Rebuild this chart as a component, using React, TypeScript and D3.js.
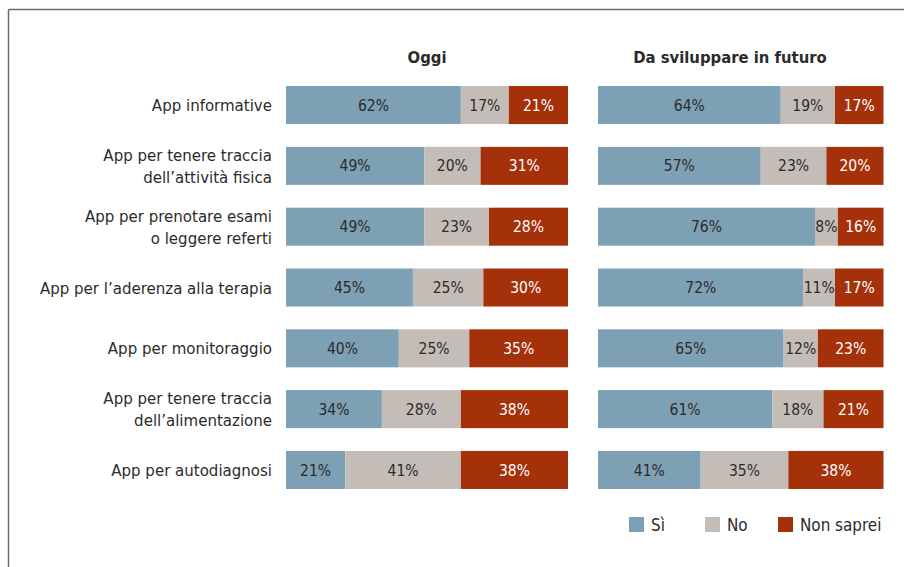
import React from "react";
import * as d3 from "d3";

const categories: string[][] = [
  ["App informative"],
  ["App per tenere traccia", "dell’attività fisica"],
  ["App per prenotare esami", "o leggere referti"],
  ["App per l’aderenza alla terapia"],
  ["App per monitoraggio"],
  ["App per tenere traccia", "dell’alimentazione"],
  ["App per autodiagnosi"],
];
const seriesNames = ["Sì", "No", "Non saprei"];
const oggiSi = [62, 49, 49, 45, 40, 34, 21];
const oggiNo = [17, 20, 23, 25, 25, 28, 41];
const oggiNS = [21, 31, 28, 30, 35, 38, 38];
const futSi = [64, 57, 76, 72, 65, 61, 41];
const futNo = [19, 23, 8, 11, 12, 18, 35];
const futNS = [17, 20, 16, 17, 23, 21, 38];
const panelTitles = ["Oggi", "Da sviluppare in futuro"];

const colors = ["#7da0b5", "#c4bdb7", "#a5310b"];
const textColors = ["#2b2b2b", "#2b2b2b", "#ffffff"];
const FONT = "'DejaVu Sans Condensed', sans-serif";

type Row = { key: number; Si: number; No: number; NS: number };

function buildRows(a: number[], b: number[], c: number[]): Row[] {
  return a.map((v, i) => ({ key: i, Si: v, No: b[i], NS: c[i] }));
}

const keys = ["Si", "No", "NS"];

function Panel({ rows, x0, x1, title, titleX, y }: { rows: Row[]; x0: number; x1: number; title: string; titleX: number; y: d3.ScaleBand<number> }) {
  const stack = d3.stack<Row>().keys(keys).offset(d3.stackOffsetExpand);
  const series = stack(rows);
  const x = d3.scaleLinear().domain([0, 1]).range([x0, x1]);
  return (
    <g>
      <text x={titleX} y={63} textAnchor="middle" fontFamily={FONT} fontWeight={700} fontSize={16.5} fill="#2b2b2b">{title}</text>
      {series.map((s, si) => (
        <g key={si}>
          {s.map((d, i) => {
            const xa = x(d[0]);
            const xb = x(d[1]);
            const val = (rows[i] as any)[keys[si]];
            return (
              <g key={i}>
                <rect x={xa} y={y(i)!} width={xb - xa} height={y.bandwidth()} fill={colors[si]} />
                <text x={(xa + xb) / 2} y={y(i)! + y.bandwidth() / 2} dy="0.36em" textAnchor="middle" fontFamily={FONT} fontSize={15.5} fill={textColors[si]}>{val}%</text>
              </g>
            );
          })}
        </g>
      ))}
    </g>
  );
}

export default function App() {
  const y = d3.scaleBand<number>().domain(d3.range(categories.length)).range([74.5, 500.5]).paddingInner(0.375).paddingOuter(0.19);
  const left = buildRows(oggiSi, oggiNo, oggiNS);
  const right = buildRows(futSi, futNo, futNS);
  const legendX = [629, 705, 778];
  return (
    <svg width={904} height={567} style={{ position: "absolute", left: 0, top: 0, background: "#fff" }}>
      <line x1={8.5} y1={9.5} x2={904} y2={9.5} stroke="#6b6b6b" strokeWidth={1.5} />
      <line x1={8.5} y1={9.5} x2={8.5} y2={567} stroke="#6b6b6b" strokeWidth={1.5} />
      {categories.map((lines, i) => {
        const cy = y(i)! + y.bandwidth() / 2;
        const lh = 22;
        const start = cy - ((lines.length - 1) * lh) / 2;
        return (
          <text key={i} textAnchor="end" fontFamily={FONT} fontSize={16.7} fill="#2b2b2b">
            {lines.map((l, j) => (
              <tspan key={j} x={272} y={start + j * lh} dy="0.36em">{l}</tspan>
            ))}
          </text>
        );
      })}
      <Panel rows={left} x0={286} x1={568} title={panelTitles[0]} titleX={427} y={y} />
      <Panel rows={right} x0={598} x1={883.5} title={panelTitles[1]} titleX={730} y={y} />
      {seriesNames.map((n, i) => (
        <g key={n}>
          <rect x={legendX[i]} y={517} width={15} height={15} fill={colors[i]} />
          <text x={legendX[i] + 22} y={524.5} dy="0.36em" fontFamily={FONT} fontSize={16.9} fill="#2b2b2b">{n}</text>
        </g>
      ))}
    </svg>
  );
}
